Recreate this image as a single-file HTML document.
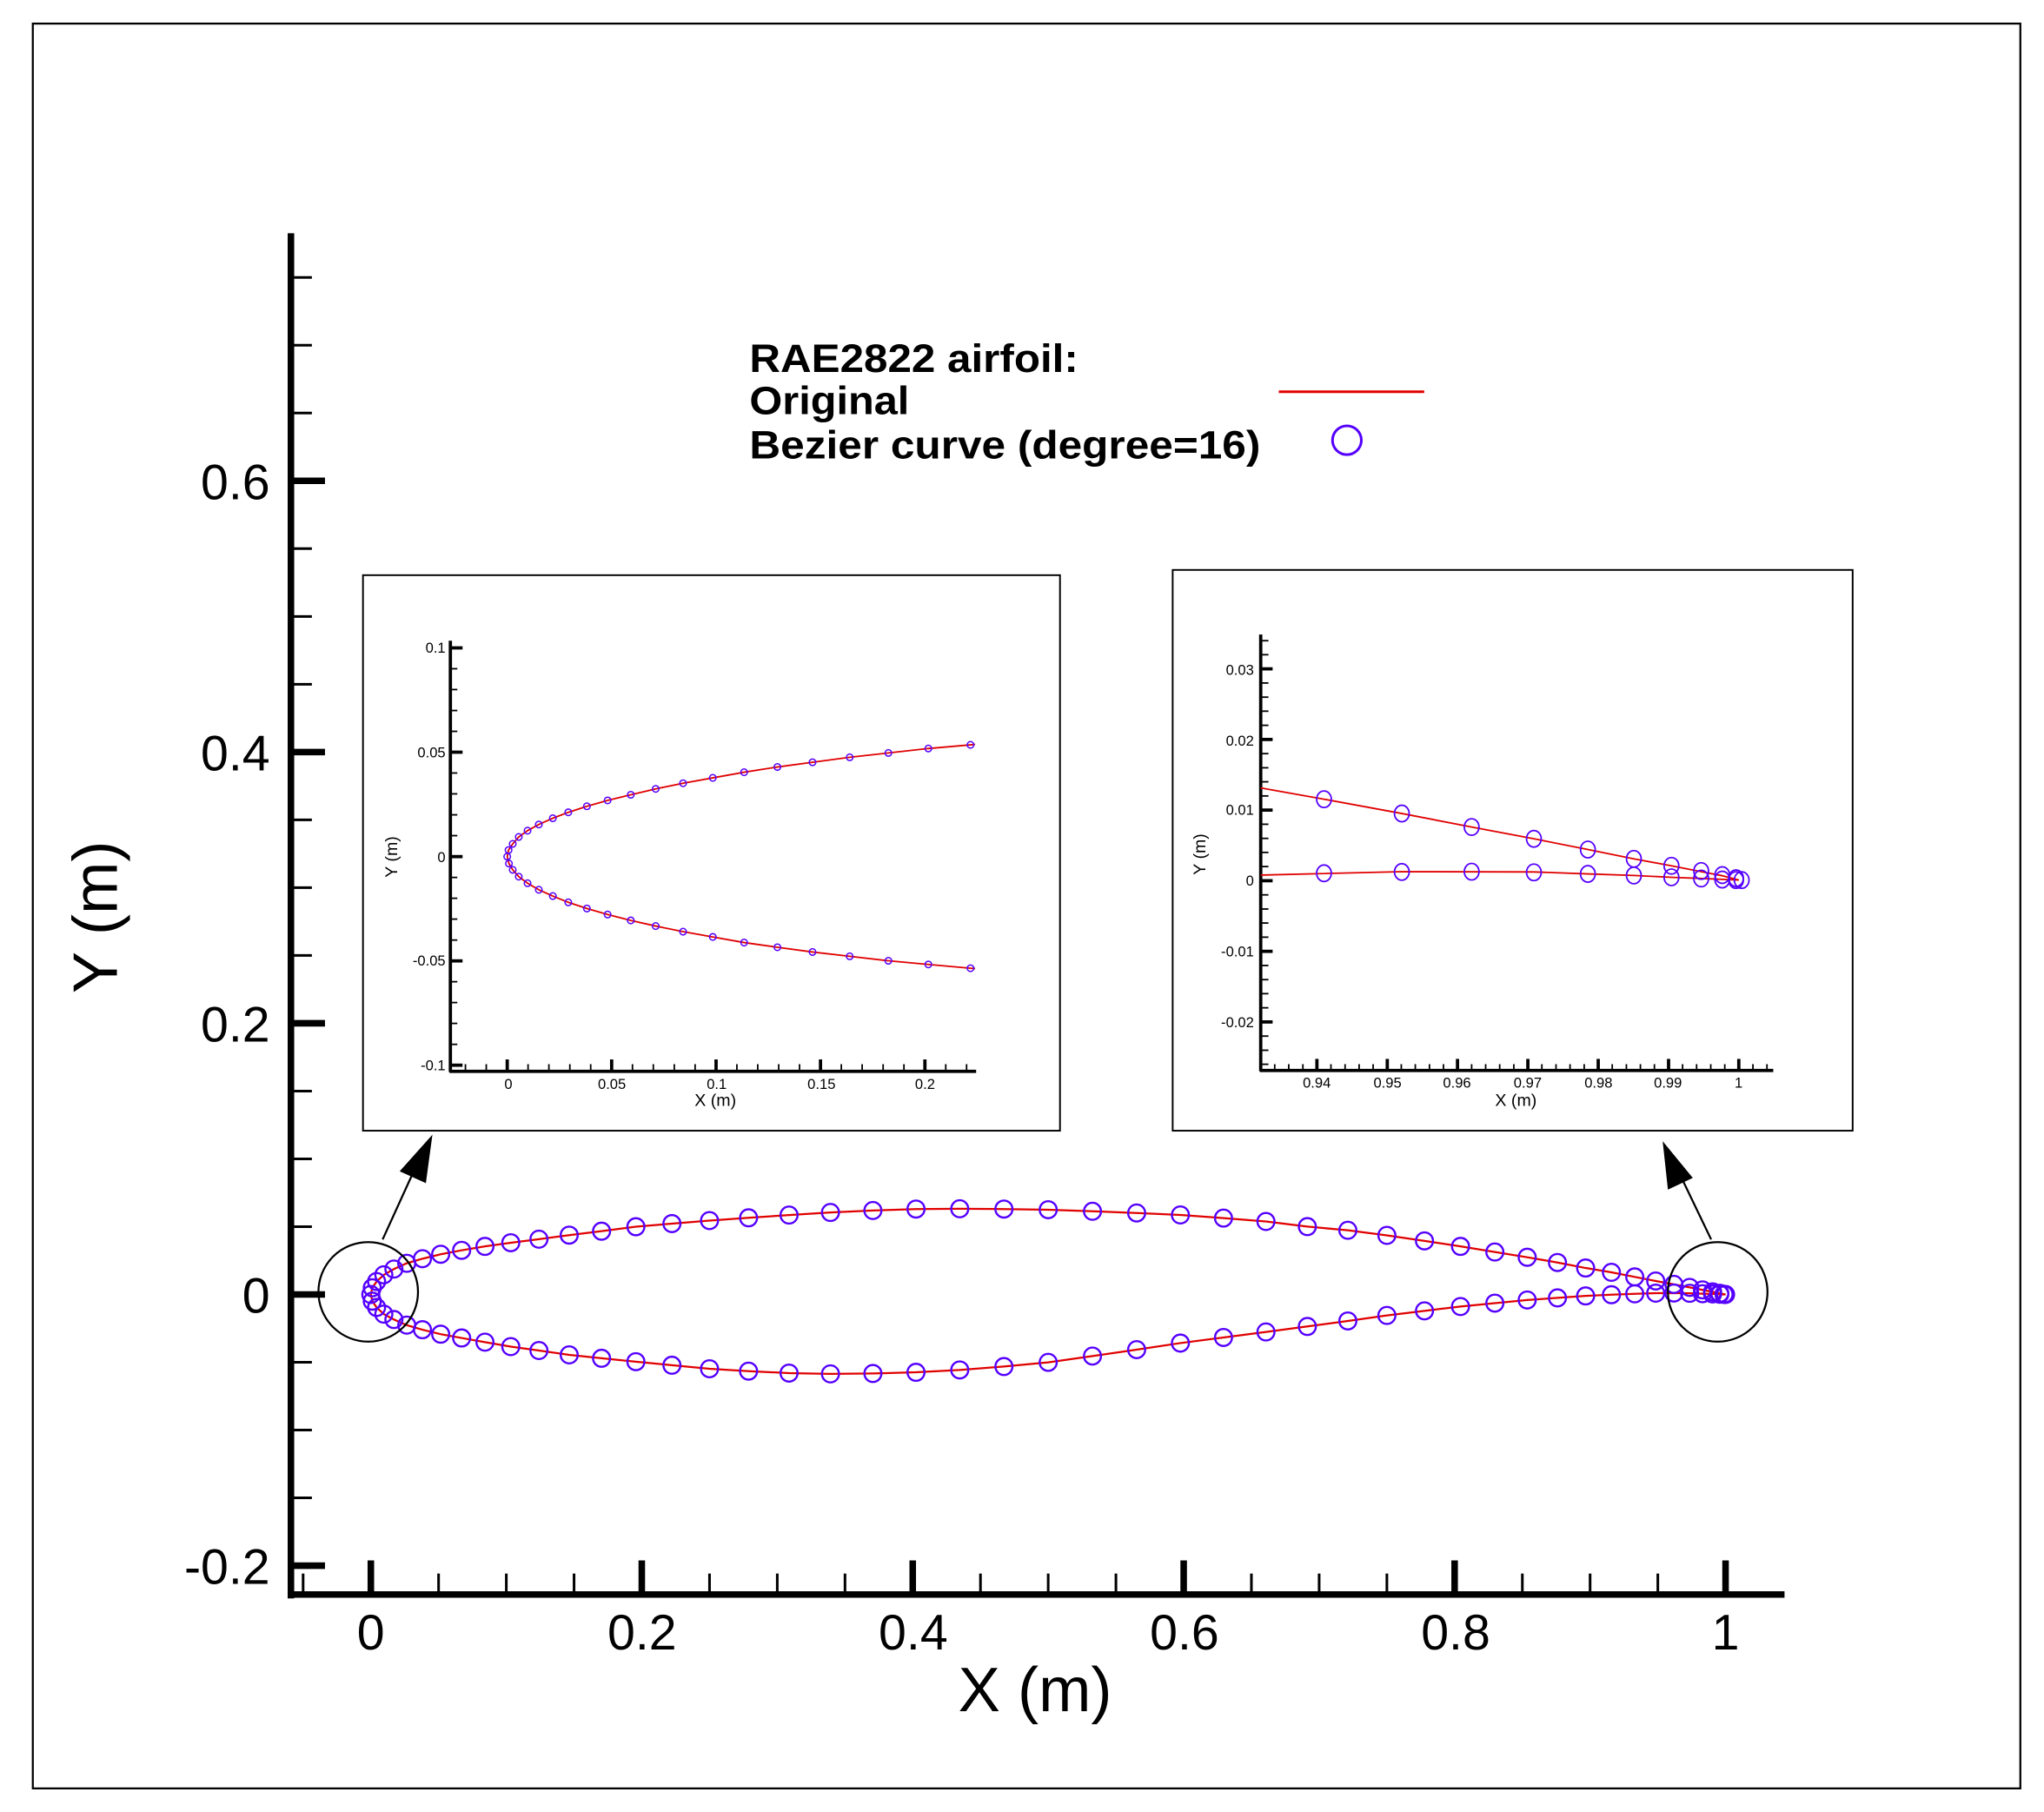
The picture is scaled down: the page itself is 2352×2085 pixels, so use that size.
<!DOCTYPE html>
<html><head><meta charset="utf-8"><style>
html,body{margin:0;padding:0;background:#fff;}
svg{display:block;}
text{font-family:"Liberation Sans",Arial,sans-serif;fill:#000;}
</style></head><body>
<svg width="2352" height="2085" viewBox="0 0 1560 1383" xmlns="http://www.w3.org/2000/svg">
<rect x="0" y="0" width="1560" height="1383" fill="#fff"/>
<rect x="25" y="18" width="1517" height="1347" fill="none" stroke="#000" stroke-width="1.5"/>
<!-- main axes -->
<g stroke="#000">
<line x1="222" y1="178" x2="222" y2="1220" stroke-width="5"/>
<line x1="219.5" y1="1217" x2="1362" y2="1217" stroke-width="5"/>
<g stroke-width="5">
<line x1="222" y1="1195" x2="248" y2="1195"/><line x1="222" y1="988" x2="248" y2="988"/><line x1="222" y1="781" x2="248" y2="781"/><line x1="222" y1="574" x2="248" y2="574"/><line x1="222" y1="367" x2="248" y2="367"/>
<line x1="283" y1="1217" x2="283" y2="1191"/><line x1="489.8" y1="1217" x2="489.8" y2="1191"/><line x1="696.6" y1="1217" x2="696.6" y2="1191"/><line x1="903.4" y1="1217" x2="903.4" y2="1191"/><line x1="1110.2" y1="1217" x2="1110.2" y2="1191"/><line x1="1317" y1="1217" x2="1317" y2="1191"/>
</g>
<g stroke-width="2">
<line x1="222" y1="1143.25" x2="238" y2="1143.25"/><line x1="222" y1="1091.5" x2="238" y2="1091.5"/><line x1="222" y1="1039.75" x2="238" y2="1039.75"/><line x1="222" y1="936.25" x2="238" y2="936.25"/><line x1="222" y1="884.5" x2="238" y2="884.5"/><line x1="222" y1="832.75" x2="238" y2="832.75"/><line x1="222" y1="729.25" x2="238" y2="729.25"/><line x1="222" y1="677.5" x2="238" y2="677.5"/><line x1="222" y1="625.75" x2="238" y2="625.75"/><line x1="222" y1="522.25" x2="238" y2="522.25"/><line x1="222" y1="470.5" x2="238" y2="470.5"/><line x1="222" y1="418.75" x2="238" y2="418.75"/><line x1="222" y1="315.25" x2="238" y2="315.25"/><line x1="222" y1="263.5" x2="238" y2="263.5"/><line x1="222" y1="211.75" x2="238" y2="211.75"/>
<line x1="231.3" y1="1217" x2="231.3" y2="1201"/><line x1="334.7" y1="1217" x2="334.7" y2="1201"/><line x1="386.4" y1="1217" x2="386.4" y2="1201"/><line x1="438.1" y1="1217" x2="438.1" y2="1201"/><line x1="541.5" y1="1217" x2="541.5" y2="1201"/><line x1="593.2" y1="1217" x2="593.2" y2="1201"/><line x1="644.9" y1="1217" x2="644.9" y2="1201"/><line x1="748.3" y1="1217" x2="748.3" y2="1201"/><line x1="800" y1="1217" x2="800" y2="1201"/><line x1="851.7" y1="1217" x2="851.7" y2="1201"/><line x1="955.1" y1="1217" x2="955.1" y2="1201"/><line x1="1006.8" y1="1217" x2="1006.8" y2="1201"/><line x1="1058.5" y1="1217" x2="1058.5" y2="1201"/><line x1="1161.9" y1="1217" x2="1161.9" y2="1201"/><line x1="1213.6" y1="1217" x2="1213.6" y2="1201"/><line x1="1265.3" y1="1217" x2="1265.3" y2="1201"/>
</g>
</g>
<!-- airfoil -->
<g fill="none">
<path stroke="#e00000" stroke-width="1.5" d="M283,988 L284.1,982.9 287.4,978.1 292.9,973 300.6,968.6 310.4,964.2 322.4,960.7 336.3,957.3 352.3,954.3 370.1,951.3 389.8,948.5 411.3,945.8 434.4,942.7 459.1,939.7 485.3,936.3 512.8,933.9 541.5,931.6 571.3,929.5 602.2,927.4 633.8,925.4 666.2,923.9 699.1,922.8 732.5,922.6 766.2,922.8 800,923.3 833.8,924.5 867.5,925.8 900.9,927.3 933.8,929.7 966.2,932.3 997.8,936.2 1028.7,939 1058.5,942.9 1087.2,947.1 1114.7,951.3 1140.9,955.6 1165.6,959.6 1188.7,963.6 1210.2,967.8 1229.9,971.1 1247.7,974.6 1263.7,977.7 1277.6,980.3 1289.6,982.6 1299.4,984.5 1307.1,986 1312.6,987.1 1315.9,987.8 1317,988"/>
<path stroke="#e00000" stroke-width="1.5" d="M283,988 L284.1,993.1 287.4,997.9 292.9,1003 300.6,1007.1 310.4,1011.4 322.4,1014.9 336.3,1018.3 352.3,1021.2 370.1,1024.4 389.8,1027.8 411.3,1030.8 434.4,1034.1 459.1,1036.7 485.3,1039.3 512.8,1042 541.5,1044.7 571.3,1046.5 602.2,1048 633.8,1048.6 666.2,1048.3 699.1,1047.4 732.5,1045.6 766.2,1043 800,1039.8 833.8,1035 867.5,1030.1 900.9,1025.1 933.8,1020.8 966.2,1016.6 997.8,1012.4 1028.7,1008.2 1058.5,1004 1087.2,1000.5 1114.7,997.2 1140.9,994.6 1165.6,992.2 1188.7,990.6 1210.2,989.1 1229.9,988.2 1247.7,987.5 1263.7,987 1277.6,986.9 1289.6,987.1 1299.4,987.4 1307.1,987.6 1312.6,987.8 1315.9,988 1317,988"/>
<g stroke="#5500ff" stroke-width="1.6">
<circle cx="283" cy="988" r="6.5"/><circle cx="284.1" cy="982.9" r="6.5"/><circle cx="287.4" cy="978.1" r="6.5"/><circle cx="292.9" cy="973" r="6.5"/><circle cx="300.6" cy="968.6" r="6.5"/><circle cx="310.4" cy="964.2" r="6.5"/><circle cx="322.4" cy="960.7" r="6.5"/><circle cx="336.3" cy="957.3" r="6.5"/><circle cx="352.3" cy="954.3" r="6.5"/><circle cx="370.1" cy="951.3" r="6.5"/><circle cx="389.8" cy="948.5" r="6.5"/><circle cx="411.3" cy="945.8" r="6.5"/><circle cx="434.4" cy="942.7" r="6.5"/><circle cx="459.1" cy="939.7" r="6.5"/><circle cx="485.3" cy="936.3" r="6.5"/><circle cx="512.8" cy="933.9" r="6.5"/><circle cx="541.5" cy="931.6" r="6.5"/><circle cx="571.3" cy="929.5" r="6.5"/><circle cx="602.2" cy="927.4" r="6.5"/><circle cx="633.8" cy="925.4" r="6.5"/><circle cx="666.2" cy="923.9" r="6.5"/><circle cx="699.1" cy="922.8" r="6.5"/><circle cx="732.5" cy="922.6" r="6.5"/><circle cx="766.2" cy="922.8" r="6.5"/><circle cx="800" cy="923.3" r="6.5"/><circle cx="833.8" cy="924.5" r="6.5"/><circle cx="867.5" cy="925.8" r="6.5"/><circle cx="900.9" cy="927.3" r="6.5"/><circle cx="933.8" cy="929.7" r="6.5"/><circle cx="966.2" cy="932.3" r="6.5"/><circle cx="997.8" cy="936.2" r="6.5"/><circle cx="1028.7" cy="939" r="6.5"/><circle cx="1058.5" cy="942.9" r="6.5"/><circle cx="1087.2" cy="947.1" r="6.5"/><circle cx="1114.7" cy="951.3" r="6.5"/><circle cx="1140.9" cy="955.6" r="6.5"/><circle cx="1165.6" cy="959.6" r="6.5"/><circle cx="1188.7" cy="963.6" r="6.5"/><circle cx="1210.2" cy="967.8" r="6.5"/><circle cx="1229.9" cy="971.1" r="6.5"/><circle cx="1247.7" cy="974.6" r="6.5"/><circle cx="1263.7" cy="977.7" r="6.5"/><circle cx="1277.6" cy="980.3" r="6.5"/><circle cx="1289.6" cy="982.6" r="6.5"/><circle cx="1299.4" cy="984.5" r="6.5"/><circle cx="1307.1" cy="986" r="6.5"/><circle cx="1312.6" cy="987.1" r="6.5"/><circle cx="1315.9" cy="987.8" r="6.5"/><circle cx="1317" cy="988" r="6.5"/>
<circle cx="284.1" cy="993.1" r="6.5"/><circle cx="287.4" cy="997.9" r="6.5"/><circle cx="292.9" cy="1003" r="6.5"/><circle cx="300.6" cy="1007.1" r="6.5"/><circle cx="310.4" cy="1011.4" r="6.5"/><circle cx="322.4" cy="1014.9" r="6.5"/><circle cx="336.3" cy="1018.3" r="6.5"/><circle cx="352.3" cy="1021.2" r="6.5"/><circle cx="370.1" cy="1024.4" r="6.5"/><circle cx="389.8" cy="1027.8" r="6.5"/><circle cx="411.3" cy="1030.8" r="6.5"/><circle cx="434.4" cy="1034.1" r="6.5"/><circle cx="459.1" cy="1036.7" r="6.5"/><circle cx="485.3" cy="1039.3" r="6.5"/><circle cx="512.8" cy="1042" r="6.5"/><circle cx="541.5" cy="1044.7" r="6.5"/><circle cx="571.3" cy="1046.5" r="6.5"/><circle cx="602.2" cy="1048" r="6.5"/><circle cx="633.8" cy="1048.6" r="6.5"/><circle cx="666.2" cy="1048.3" r="6.5"/><circle cx="699.1" cy="1047.4" r="6.5"/><circle cx="732.5" cy="1045.6" r="6.5"/><circle cx="766.2" cy="1043" r="6.5"/><circle cx="800" cy="1039.8" r="6.5"/><circle cx="833.8" cy="1035" r="6.5"/><circle cx="867.5" cy="1030.1" r="6.5"/><circle cx="900.9" cy="1025.1" r="6.5"/><circle cx="933.8" cy="1020.8" r="6.5"/><circle cx="966.2" cy="1016.6" r="6.5"/><circle cx="997.8" cy="1012.4" r="6.5"/><circle cx="1028.7" cy="1008.2" r="6.5"/><circle cx="1058.5" cy="1004" r="6.5"/><circle cx="1087.2" cy="1000.5" r="6.5"/><circle cx="1114.7" cy="997.2" r="6.5"/><circle cx="1140.9" cy="994.6" r="6.5"/><circle cx="1165.6" cy="992.2" r="6.5"/><circle cx="1188.7" cy="990.6" r="6.5"/><circle cx="1210.2" cy="989.1" r="6.5"/><circle cx="1229.9" cy="988.2" r="6.5"/><circle cx="1247.7" cy="987.5" r="6.5"/><circle cx="1263.7" cy="987" r="6.5"/><circle cx="1277.6" cy="986.9" r="6.5"/><circle cx="1289.6" cy="987.1" r="6.5"/><circle cx="1299.4" cy="987.4" r="6.5"/><circle cx="1307.1" cy="987.6" r="6.5"/><circle cx="1312.6" cy="987.8" r="6.5"/><circle cx="1315.9" cy="988" r="6.5"/>
</g>
</g>
<!-- main labels -->
<g font-size="38" text-anchor="end">
<text x="206" y="381">0.6</text>
<text x="206" y="588">0.4</text>
<text x="206" y="795">0.2</text>
<text x="206" y="1002">0</text>
<text x="206" y="1209">-0.2</text>
</g>
<g font-size="38" text-anchor="middle">
<text x="283" y="1259">0</text>
<text x="490" y="1259">0.2</text>
<text x="697" y="1259">0.4</text>
<text x="904" y="1259">0.6</text>
<text x="1111" y="1259">0.8</text>
<text x="1317" y="1259">1</text>
</g>
<text x="790" y="1306" font-size="48" text-anchor="middle">X (m)</text>
<text transform="translate(89,700) rotate(-90)" font-size="48" text-anchor="middle">Y (m)</text>
<!-- legend -->
<g font-size="30" font-weight="bold">
<text x="572" y="284" textLength="251" lengthAdjust="spacingAndGlyphs">RAE2822 airfoil:</text>
<text x="572" y="316" textLength="122" lengthAdjust="spacingAndGlyphs">Original</text>
<text x="572" y="350" textLength="390" lengthAdjust="spacingAndGlyphs">Bezier curve (degree=16)</text>
</g>
<line x1="976" y1="299" x2="1087" y2="299" stroke="#e00000" stroke-width="2"/>
<circle cx="1028" cy="336" r="11" fill="none" stroke="#5500ff" stroke-width="2"/>
<!-- inset frames -->
<rect x="277" y="439" width="532" height="424" fill="#fff" stroke="#000" stroke-width="1.3"/>
<rect x="895" y="435" width="519" height="428" fill="#fff" stroke="#000" stroke-width="1.3"/>
<!-- inset 1 -->
<g stroke="#000">
<line x1="343.7" y1="489" x2="343.7" y2="818.2" stroke-width="2.5"/>
<line x1="343" y1="817.7" x2="745" y2="817.7" stroke-width="2.5"/>
<g stroke-width="2.5">
<line x1="343.7" y1="494.5" x2="353" y2="494.5"/><line x1="343.7" y1="574.1" x2="353" y2="574.1"/><line x1="343.7" y1="653.8" x2="353" y2="653.8"/><line x1="343.7" y1="733.4" x2="353" y2="733.4"/><line x1="343.7" y1="813" x2="353" y2="813"/>
<line x1="387.1" y1="817.7" x2="387.1" y2="808.6"/><line x1="466.8" y1="817.7" x2="466.8" y2="808.6"/><line x1="546.5" y1="817.7" x2="546.5" y2="808.6"/><line x1="626.2" y1="817.7" x2="626.2" y2="808.6"/><line x1="705.9" y1="817.7" x2="705.9" y2="808.6"/>
</g>
<g stroke-width="1.2">
<line x1="343.7" y1="510.4" x2="349" y2="510.4"/><line x1="343.7" y1="526.3" x2="349" y2="526.3"/><line x1="343.7" y1="542.3" x2="349" y2="542.3"/><line x1="343.7" y1="558.2" x2="349" y2="558.2"/><line x1="343.7" y1="590" x2="349" y2="590"/><line x1="343.7" y1="605.9" x2="349" y2="605.9"/><line x1="343.7" y1="621.9" x2="349" y2="621.9"/><line x1="343.7" y1="637.8" x2="349" y2="637.8"/><line x1="343.7" y1="669.7" x2="349" y2="669.7"/><line x1="343.7" y1="685.6" x2="349" y2="685.6"/><line x1="343.7" y1="701.5" x2="349" y2="701.5"/><line x1="343.7" y1="717.5" x2="349" y2="717.5"/><line x1="343.7" y1="749.3" x2="349" y2="749.3"/><line x1="343.7" y1="765.2" x2="349" y2="765.2"/><line x1="343.7" y1="781.1" x2="349" y2="781.1"/><line x1="343.7" y1="797.1" x2="349" y2="797.1"/>
<line x1="355.2" y1="817.7" x2="355.2" y2="812.2"/><line x1="371.1" y1="817.7" x2="371.1" y2="812.2"/><line x1="403" y1="817.7" x2="403" y2="812.2"/><line x1="418.9" y1="817.7" x2="418.9" y2="812.2"/><line x1="434.9" y1="817.7" x2="434.9" y2="812.2"/><line x1="450.8" y1="817.7" x2="450.8" y2="812.2"/><line x1="482.7" y1="817.7" x2="482.7" y2="812.2"/><line x1="498.6" y1="817.7" x2="498.6" y2="812.2"/><line x1="514.6" y1="817.7" x2="514.6" y2="812.2"/><line x1="530.5" y1="817.7" x2="530.5" y2="812.2"/><line x1="562.4" y1="817.7" x2="562.4" y2="812.2"/><line x1="578.3" y1="817.7" x2="578.3" y2="812.2"/><line x1="594.3" y1="817.7" x2="594.3" y2="812.2"/><line x1="610.2" y1="817.7" x2="610.2" y2="812.2"/><line x1="642.1" y1="817.7" x2="642.1" y2="812.2"/><line x1="658" y1="817.7" x2="658" y2="812.2"/><line x1="674" y1="817.7" x2="674" y2="812.2"/><line x1="689.9" y1="817.7" x2="689.9" y2="812.2"/><line x1="721.8" y1="817.7" x2="721.8" y2="812.2"/><line x1="737.7" y1="817.7" x2="737.7" y2="812.2"/>
</g>
</g>
<g fill="none">
<path stroke="#e00000" stroke-width="1.2" d="M744.2,568.1 L740.7,568.5 708.5,571.3 678,574.7 648.5,578 620.1,581.8 593.3,585.4 567.9,589.4 544,593.7 521.3,597.8 500.4,602.1 481.4,606.6 463.7,610.9 447.9,615.4 433.7,620 421.9,624.5 411.2,629.3 402.6,634 395.9,638.8 391.3,644.1 388.1,648.8 387.1,653.8 388.4,659.1 391.3,663.9 395.9,669.1 402.6,674.1 411.2,679.1 421.9,683.9 433.7,688.7 447.9,693.4 463.7,698 481.4,702.5 500.4,706.8 521.3,711.1 544,715.1 567.9,719.4 593.3,723 620.1,726.6 648.5,729.9 678,733.3 708.5,736.1 740.7,739 744.2,739.2"/>
<g stroke="#5500ff" stroke-width="1">
<circle cx="740.7" cy="568.5" r="2.5"/><circle cx="708.5" cy="571.3" r="2.5"/><circle cx="678" cy="574.7" r="2.5"/><circle cx="648.5" cy="578" r="2.5"/><circle cx="620.1" cy="581.8" r="2.5"/><circle cx="593.3" cy="585.4" r="2.5"/><circle cx="567.9" cy="589.4" r="2.5"/><circle cx="544" cy="593.7" r="2.5"/><circle cx="521.3" cy="597.8" r="2.5"/><circle cx="500.4" cy="602.1" r="2.5"/><circle cx="481.4" cy="606.6" r="2.5"/><circle cx="463.7" cy="610.9" r="2.5"/><circle cx="447.9" cy="615.4" r="2.5"/><circle cx="433.7" cy="620" r="2.5"/><circle cx="421.9" cy="624.5" r="2.5"/><circle cx="411.2" cy="629.3" r="2.5"/><circle cx="402.6" cy="634" r="2.5"/><circle cx="395.9" cy="638.8" r="2.5"/><circle cx="391.3" cy="644.1" r="2.5"/><circle cx="388.1" cy="648.8" r="2.5"/><circle cx="387.1" cy="653.8" r="2.5"/><circle cx="388.4" cy="659.1" r="2.5"/><circle cx="391.3" cy="663.9" r="2.5"/><circle cx="395.9" cy="669.1" r="2.5"/><circle cx="402.6" cy="674.1" r="2.5"/><circle cx="411.2" cy="679.1" r="2.5"/><circle cx="421.9" cy="683.9" r="2.5"/><circle cx="433.7" cy="688.7" r="2.5"/><circle cx="447.9" cy="693.4" r="2.5"/><circle cx="463.7" cy="698" r="2.5"/><circle cx="481.4" cy="702.5" r="2.5"/><circle cx="500.4" cy="706.8" r="2.5"/><circle cx="521.3" cy="711.1" r="2.5"/><circle cx="544" cy="715.1" r="2.5"/><circle cx="567.9" cy="719.4" r="2.5"/><circle cx="593.3" cy="723" r="2.5"/><circle cx="620.1" cy="726.6" r="2.5"/><circle cx="648.5" cy="729.9" r="2.5"/><circle cx="678" cy="733.3" r="2.5"/><circle cx="708.5" cy="736.1" r="2.5"/><circle cx="740.7" cy="739" r="2.5"/>
</g>
</g>
<g font-size="11" text-anchor="end">
<text x="340" y="498">0.1</text>
<text x="340" y="578">0.05</text>
<text x="340" y="658">0</text>
<text x="340" y="737">-0.05</text>
<text x="340" y="817">-0.1</text>
</g>
<g font-size="11" text-anchor="middle">
<text x="388" y="831">0</text>
<text x="467" y="831">0.05</text>
<text x="547" y="831">0.1</text>
<text x="627" y="831">0.15</text>
<text x="706" y="831">0.2</text>
</g>
<text x="546" y="844" font-size="13" text-anchor="middle">X (m)</text>
<text transform="translate(303,654) rotate(-90)" font-size="13" text-anchor="middle">Y (m)</text>
<!-- inset 2 -->
<g stroke="#000">
<line x1="962.2" y1="484.3" x2="962.2" y2="817.5" stroke-width="2.5"/>
<line x1="961.5" y1="817" x2="1353.4" y2="817" stroke-width="2.5"/>
<g stroke-width="2.5">
<line x1="962.2" y1="510.5" x2="971.3" y2="510.5"/><line x1="962.2" y1="564.4" x2="971.3" y2="564.4"/><line x1="962.2" y1="618.3" x2="971.3" y2="618.3"/><line x1="962.2" y1="672.2" x2="971.3" y2="672.2"/><line x1="962.2" y1="726.1" x2="971.3" y2="726.1"/><line x1="962.2" y1="780" x2="971.3" y2="780"/>
<line x1="1005.1" y1="817" x2="1005.1" y2="808.2"/><line x1="1058.8" y1="817" x2="1058.8" y2="808.2"/><line x1="1112.4" y1="817" x2="1112.4" y2="808.2"/><line x1="1166.1" y1="817" x2="1166.1" y2="808.2"/><line x1="1219.8" y1="817" x2="1219.8" y2="808.2"/><line x1="1273.5" y1="817" x2="1273.5" y2="808.2"/><line x1="1327.1" y1="817" x2="1327.1" y2="808.2"/>
</g>
<g stroke-width="1.2">
<line x1="962.2" y1="489" x2="968.1" y2="489"/><line x1="962.2" y1="499.7" x2="968.1" y2="499.7"/><line x1="962.2" y1="521.3" x2="968.1" y2="521.3"/><line x1="962.2" y1="532.1" x2="968.1" y2="532.1"/><line x1="962.2" y1="542.8" x2="968.1" y2="542.8"/><line x1="962.2" y1="553.6" x2="968.1" y2="553.6"/><line x1="962.2" y1="575.2" x2="968.1" y2="575.2"/><line x1="962.2" y1="586" x2="968.1" y2="586"/><line x1="962.2" y1="596.7" x2="968.1" y2="596.7"/><line x1="962.2" y1="607.5" x2="968.1" y2="607.5"/><line x1="962.2" y1="629.1" x2="968.1" y2="629.1"/><line x1="962.2" y1="639.9" x2="968.1" y2="639.9"/><line x1="962.2" y1="650.6" x2="968.1" y2="650.6"/><line x1="962.2" y1="661.4" x2="968.1" y2="661.4"/><line x1="962.2" y1="683" x2="968.1" y2="683"/><line x1="962.2" y1="693.8" x2="968.1" y2="693.8"/><line x1="962.2" y1="704.5" x2="968.1" y2="704.5"/><line x1="962.2" y1="715.3" x2="968.1" y2="715.3"/><line x1="962.2" y1="736.9" x2="968.1" y2="736.9"/><line x1="962.2" y1="747.7" x2="968.1" y2="747.7"/><line x1="962.2" y1="758.4" x2="968.1" y2="758.4"/><line x1="962.2" y1="769.2" x2="968.1" y2="769.2"/><line x1="962.2" y1="790.8" x2="968.1" y2="790.8"/><line x1="962.2" y1="801.6" x2="968.1" y2="801.6"/><line x1="962.2" y1="812.3" x2="968.1" y2="812.3"/>
<line x1="972.9" y1="817" x2="972.9" y2="812.2"/><line x1="983.6" y1="817" x2="983.6" y2="812.2"/><line x1="994.4" y1="817" x2="994.4" y2="812.2"/><line x1="1015.8" y1="817" x2="1015.8" y2="812.2"/><line x1="1026.6" y1="817" x2="1026.6" y2="812.2"/><line x1="1037.3" y1="817" x2="1037.3" y2="812.2"/><line x1="1048" y1="817" x2="1048" y2="812.2"/><line x1="1069.5" y1="817" x2="1069.5" y2="812.2"/><line x1="1080.2" y1="817" x2="1080.2" y2="812.2"/><line x1="1091" y1="817" x2="1091" y2="812.2"/><line x1="1101.7" y1="817" x2="1101.7" y2="812.2"/><line x1="1123.2" y1="817" x2="1123.2" y2="812.2"/><line x1="1133.9" y1="817" x2="1133.9" y2="812.2"/><line x1="1144.6" y1="817" x2="1144.6" y2="812.2"/><line x1="1155.4" y1="817" x2="1155.4" y2="812.2"/><line x1="1176.8" y1="817" x2="1176.8" y2="812.2"/><line x1="1187.6" y1="817" x2="1187.6" y2="812.2"/><line x1="1198.3" y1="817" x2="1198.3" y2="812.2"/><line x1="1209.1" y1="817" x2="1209.1" y2="812.2"/><line x1="1230.5" y1="817" x2="1230.5" y2="812.2"/><line x1="1241.3" y1="817" x2="1241.3" y2="812.2"/><line x1="1252" y1="817" x2="1252" y2="812.2"/><line x1="1262.7" y1="817" x2="1262.7" y2="812.2"/><line x1="1284.2" y1="817" x2="1284.2" y2="812.2"/><line x1="1294.9" y1="817" x2="1294.9" y2="812.2"/><line x1="1305.7" y1="817" x2="1305.7" y2="812.2"/><line x1="1316.4" y1="817" x2="1316.4" y2="812.2"/><line x1="1337.9" y1="817" x2="1337.9" y2="812.2"/><line x1="1348.6" y1="817" x2="1348.6" y2="812.2"/>
</g>
</g>
<g fill="none">
<path stroke="#e00000" stroke-width="1.2" d="M962.2,601.4 L1010.5,610 1069.9,620.9 1123.2,631.2 1170.7,640.2 1211.9,648.4 1247,655.5 1275.7,660.8 1298.4,665.3 1314.5,668.4 1327.1,671.7"/>
<path stroke="#e00000" stroke-width="1.2" d="M962.2,667.9 L1069.9,665.3 1170.7,665.5 1211.9,667 1247,668.2 1275.7,669.6 1298.4,670.5 1327.1,671.7"/>
<g stroke="#5500ff" stroke-width="1.2">
<ellipse cx="1010.5" cy="610" rx="5.6" ry="6.3"/><ellipse cx="1069.9" cy="620.9" rx="5.6" ry="6.3"/><ellipse cx="1123.2" cy="631.2" rx="5.6" ry="6.3"/><ellipse cx="1170.7" cy="640.2" rx="5.6" ry="6.3"/><ellipse cx="1211.9" cy="648.4" rx="5.6" ry="6.3"/><ellipse cx="1247" cy="655.5" rx="5.6" ry="6.3"/><ellipse cx="1275.7" cy="660.8" rx="5.6" ry="6.3"/><ellipse cx="1298.4" cy="664.8" rx="5.6" ry="6.3"/><ellipse cx="1314.5" cy="667.9" rx="5.6" ry="6.3"/><ellipse cx="1325" cy="670.3" rx="5.6" ry="6.3"/><ellipse cx="1329.3" cy="671.7" rx="5.6" ry="6.3"/>
<ellipse cx="1010.5" cy="666.5" rx="5.6" ry="6.3"/><ellipse cx="1069.9" cy="665.5" rx="5.6" ry="6.3"/><ellipse cx="1123.2" cy="665.3" rx="5.6" ry="6.3"/><ellipse cx="1170.7" cy="665.8" rx="5.6" ry="6.3"/><ellipse cx="1211.9" cy="667" rx="5.6" ry="6.3"/><ellipse cx="1247" cy="668.2" rx="5.6" ry="6.3"/><ellipse cx="1275.7" cy="669.6" rx="5.6" ry="6.3"/><ellipse cx="1298.4" cy="670.5" rx="5.6" ry="6.3"/><ellipse cx="1314.5" cy="671.3" rx="5.6" ry="6.3"/><ellipse cx="1325" cy="671.7" rx="5.6" ry="6.3"/>
</g>
</g>
<g font-size="11" text-anchor="end">
<text x="957" y="515">0.03</text>
<text x="957" y="569">0.02</text>
<text x="957" y="622">0.01</text>
<text x="957" y="676">0</text>
<text x="957" y="730">-0.01</text>
<text x="957" y="784">-0.02</text>
</g>
<g font-size="11" text-anchor="middle">
<text x="1005" y="830">0.94</text>
<text x="1059" y="830">0.95</text>
<text x="1112" y="830">0.96</text>
<text x="1166" y="830">0.97</text>
<text x="1220" y="830">0.98</text>
<text x="1273" y="830">0.99</text>
<text x="1327" y="830">1</text>
</g>
<text x="1157" y="844" font-size="13" text-anchor="middle">X (m)</text>
<text transform="translate(920,652) rotate(-90)" font-size="13" text-anchor="middle">Y (m)</text>
<!-- zoom circles and arrows -->
<circle cx="281" cy="986" r="38" fill="none" stroke="#000" stroke-width="1.5"/>
<circle cx="1311" cy="986" r="38" fill="none" stroke="#000" stroke-width="1.5"/>
<line x1="292" y1="946" x2="318" y2="889" stroke="#000" stroke-width="1.5"/>
<polygon points="330,866 325,903 305,894" fill="#000"/>
<line x1="1306" y1="946" x2="1281" y2="894" stroke="#000" stroke-width="1.5"/>
<polygon points="1269,871 1292,899 1273,908" fill="#000"/>
</svg>
</body></html>
